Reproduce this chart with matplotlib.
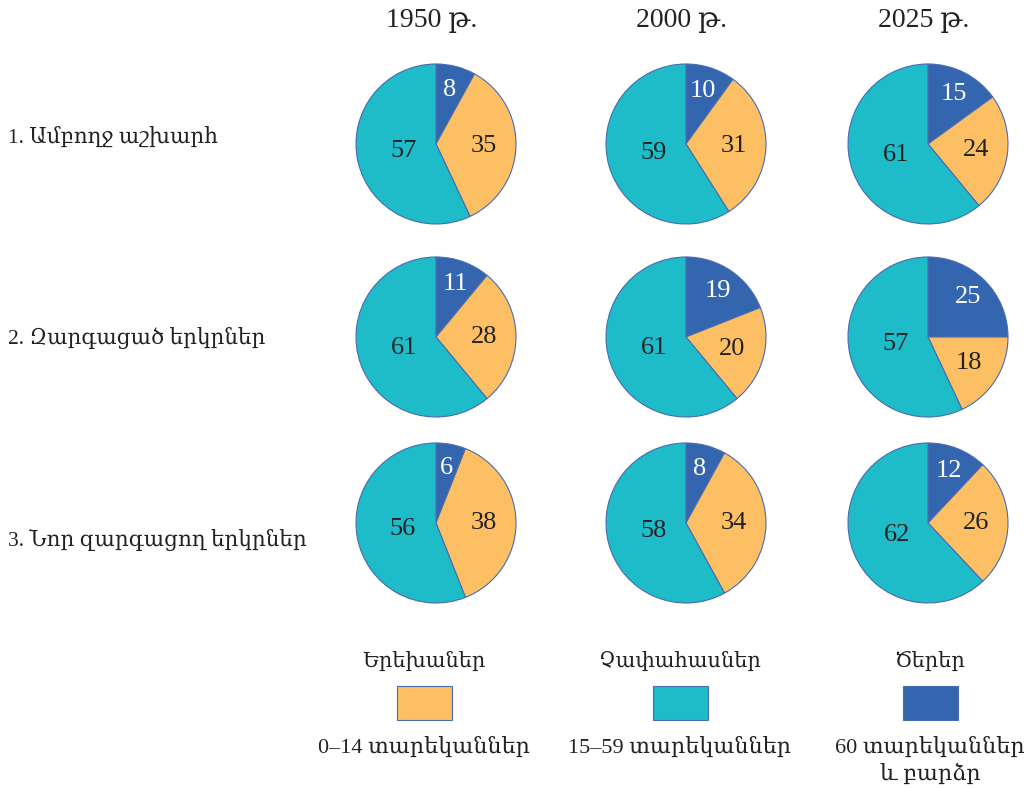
import numpy as np
import matplotlib.pyplot as plt
from matplotlib.patches import Rectangle

# data
years = ['1950 թ.', '2000 թ.', '2025 թ.']
groups = ['1. Ամբողջ աշխարհ', '2. Զարգացած երկրներ', '3. Նոր զարգացող երկրներ']
# share of 60+ (old), 0-14 (children), 15-59 (working), per group and year
old = [[8, 10, 15], [11, 19, 25], [6, 8, 12]]
children = [[35, 31, 24], [28, 20, 18], [38, 34, 26]]
working = [[57, 59, 61], [61, 61, 57], [56, 58, 62]]
legend_titles = ['Երեխաներ', 'Չափահասներ', 'Ծերեր']
legend_labels = ['0–14 տարեկաններ', '15–59 տարեկաններ', '60 տարեկաններ\nև բարձր']

c_orange = '#FDBF63'
c_teal = '#1EBBC9'
c_blue = '#3465AF'
c_edge = '#4A6BB0'
txt = '#222222'
fam = ['Liberation Serif', 'DejaVu Serif', 'DejaVu Sans']

W, H = 1029, 788
fig = plt.figure(figsize=(W / 100, H / 100), dpi=100)
ax = fig.add_axes([0, 0, 1, 1])


def Y(y):
    # image pixel row -> axes y
    return H - y


col_x = [436, 686, 928]
row_y = [144, 337, 523]
R = 80
dists = [0.7, 0.6, 0.42]  # label distance per category (fraction of radius)

for i in range(3):
    for j in range(3):
        vals = [old[i][j], children[i][j], working[i][j]]
        ax.pie(vals, colors=[c_blue, c_orange, c_teal],
               startangle=90, counterclock=False,
               center=(col_x[j], Y(row_y[i])), radius=R,
               wedgeprops=dict(edgecolor=c_edge, linewidth=0.8))
        start = 90.0
        for k, v in enumerate(vals):
            mid = start - v * 3.6 / 2
            start -= v * 3.6
            a = np.deg2rad(mid)
            ax.text(col_x[j] + dists[k] * R * np.cos(a),
                    Y(row_y[i]) + dists[k] * R * np.sin(a), str(v),
                    ha='center', va='center', fontsize=19, family=fam,
                    color='white' if k == 0 else txt)

for j, y in enumerate(years):
    ax.text(col_x[j] - 4, Y(20), y, ha='center', va='center', fontsize=20,
            family=fam, color=txt)

for i, g in enumerate(groups):
    ax.text(8, Y([137, 338, 540][i]), g, ha='left', va='center', fontsize=15.5,
            family=fam, color=txt)

leg_x = [424, 680, 930]
leg_colors = [c_orange, c_teal, c_blue]
for k in range(3):
    ax.text(leg_x[k], Y(662), legend_titles[k], ha='center', va='center',
            fontsize=15, family=fam, color=txt)
    ax.add_patch(Rectangle((leg_x[k] - 27.5, Y(720)), 55, 34,
                           facecolor=leg_colors[k], edgecolor=c_edge, linewidth=0.8))
    ax.text(leg_x[k], Y(737), legend_labels[k], ha='center', va='top',
            fontsize=16, family=fam, color=txt, linespacing=1.3)

ax.set_xlim(0, W)
ax.set_ylim(0, H)
ax.set_aspect('auto')
ax.axis('off')
fig.savefig('out.png', dpi=100)
